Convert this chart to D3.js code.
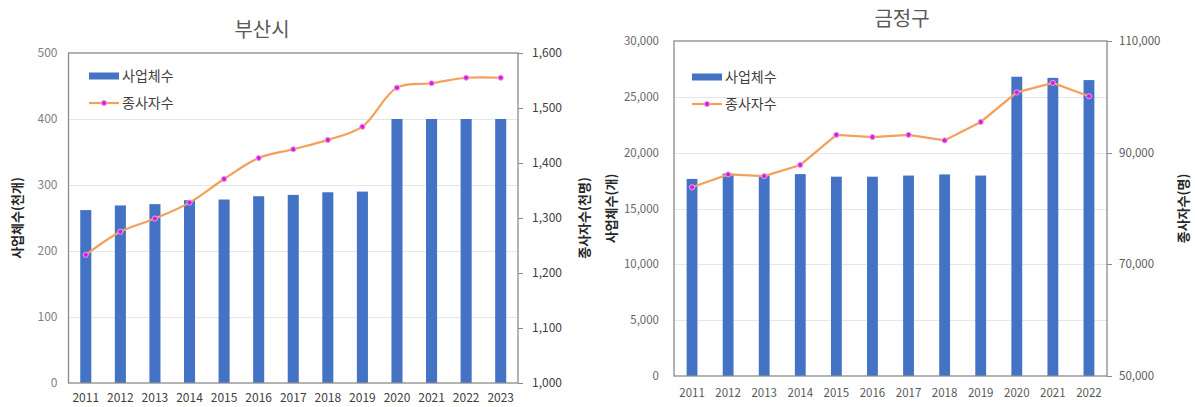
<!DOCTYPE html>
<html><head><meta charset="utf-8">
<script src="https://cdn.jsdelivr.net/npm/d3@7"></script>
<style>
html,body{margin:0;padding:0;background:#fff;}
svg{display:block;font-family:"Noto Sans CJK KR","Noto Sans",sans-serif;}
</style></head>
<body>
<svg id="c" width="1195" height="407"></svg>
<script>
// ---- data: 부산시 ----
const busanYears = ["2011","2012","2013","2014","2015","2016","2017","2018","2019","2020","2021","2022","2023"];
const busanBiz = [262, 269, 271, 277, 278, 283, 285, 289, 290, 400, 400, 400, 400];          // 사업체수(천개)
const busanWorkers = [1233, 1275, 1299, 1328, 1371, 1409, 1425, 1442, 1466, 1537, 1545, 1555, 1555]; // 종사자수(천명)
const busanLeftTicks = [0, 100, 200, 300, 400, 500];
const busanRightTicks = [1000, 1100, 1200, 1300, 1400, 1500, 1600];

// ---- data: 금정구 ----
const gjYears = ["2011","2012","2013","2014","2015","2016","2017","2018","2019","2020","2021","2022"];
const gjBiz = [17650, 18130, 17950, 18080, 17850, 17850, 17950, 18050, 17950, 26800, 26700, 26500]; // 사업체수(개)
const gjWorkers = [83800, 86100, 85800, 87800, 93200, 92800, 93200, 92200, 95500, 100800, 102500, 100100]; // 종사자수(명)
const gjLeftTicks = [0, 5000, 10000, 15000, 20000, 25000, 30000];
const gjRightTicks = [50000, 70000, 90000, 110000];

const legendLabels = ["사업체수", "종사자수"];

const svg = d3.select("#c");
const fmt = d3.format(",");

function drawChart(o) {
  const g = svg.append("g");
  const x = d3.scaleBand().domain(o.years).range([o.x0, o.x1]).paddingInner(o.pad).paddingOuter(o.pad / 2);
  const yL = d3.scaleLinear().domain(o.leftDomain).range([o.y1, o.y0]);
  const yR = d3.scaleLinear().domain(o.rightDomain).range([o.y1, o.y0]);

  // gridlines
  g.append("g").selectAll("line").data(o.leftTicks.slice(1, -1)).join("line")
    .attr("x1", o.x0).attr("x2", o.x1)
    .attr("y1", d => Math.round(yL(d)) + 0.5).attr("y2", d => Math.round(yL(d)) + 0.5)
    .attr("stroke", "#e6e6e6").attr("stroke-width", 1);

  // bars
  g.append("g").selectAll("rect").data(o.biz).join("rect")
    .attr("x", (d, i) => x(o.years[i]))
    .attr("width", x.bandwidth())
    .attr("y", d => yL(d))
    .attr("height", d => yL(o.leftDomain[0]) - yL(d))
    .attr("fill", "#4472c4");

  // plot border
  g.append("rect").attr("x", o.x0).attr("y", o.y0).attr("width", o.x1 - o.x0).attr("height", o.y1 - o.y0)
    .attr("fill", "none").attr("stroke", "#8a8a8a").attr("stroke-width", 1.3);

  // line
  const line = d3.line()
    .x((d, i) => x(o.years[i]) + x.bandwidth() / 2)
    .y(d => yR(d))
    .curve(o.smooth ? d3.curveCatmullRom.alpha(0.5) : d3.curveLinear);
  g.append("path").datum(o.workers).attr("d", line)
    .attr("fill", "none").attr("stroke", "#f2a05a").attr("stroke-width", 2.2);
  g.append("g").selectAll("circle").data(o.workers).join("circle")
    .attr("cx", (d, i) => x(o.years[i]) + x.bandwidth() / 2)
    .attr("cy", d => yR(d))
    .attr("r", 2.6).attr("fill", "#d61fd6").attr("stroke", "#f59cf0").attr("stroke-width", 1);

  // left axis labels
  g.append("g").selectAll("text").data(o.leftTicks).join("text")
    .attr("x", o.x0 - o.leftGap).attr("y", d => yL(d)).attr("dy", "0.35em")
    .attr("text-anchor", "end").attr("font-size", o.tickSize).attr("fill", o.leftColor)
    .text(d => fmt(d));

  // right axis ticks + labels
  const ra = g.append("g");
  ra.selectAll("line").data(o.rightTicks).join("line")
    .attr("x1", o.x1).attr("x2", o.x1 + 5)
    .attr("y1", d => Math.round(yR(d)) + 0.5).attr("y2", d => Math.round(yR(d)) + 0.5)
    .attr("stroke", "#8a8a8a").attr("stroke-width", 1);
  ra.selectAll("text").data(o.rightTicks).join("text")
    .attr("x", o.x1 + o.rightGap).attr("y", d => yR(d)).attr("dy", "0.35em")
    .attr("text-anchor", "start").attr("font-size", o.tickSize).attr("fill", o.rightColor)
    .text(d => fmt(d));

  // x labels
  g.append("g").selectAll("text").data(o.years).join("text")
    .attr("x", d => x(d) + x.bandwidth() / 2).attr("y", o.xLabelY).attr("dy", "0.35em")
    .attr("text-anchor", "middle").attr("font-size", o.tickSize).attr("fill", o.xColor)
    .text(d => d);

  // title
  g.append("text").attr("x", o.titleX).attr("y", o.titleY)
    .attr("text-anchor", "middle").attr("font-size", 20).attr("fill", "#595959").text(o.title);

  // axis titles
  const ym = (o.y0 + o.y1) / 2;
  g.append("text").attr("transform", `translate(${o.leftTitleX},${ym}) rotate(-90)`)
    .attr("text-anchor", "middle").attr("dy", "0.35em").attr("font-size", 13).attr("font-weight", "bold")
    .attr("fill", "#262626").text(o.leftTitle);
  g.append("text").attr("transform", `translate(${o.rightTitleX},${ym}) rotate(-90)`)
    .attr("text-anchor", "middle").attr("dy", "0.35em").attr("font-size", 13).attr("font-weight", "bold")
    .attr("fill", "#262626").text(o.rightTitle);

  // legend
  const lg = g.append("g").attr("transform", `translate(${o.legX},${o.legY})`);
  lg.append("rect").attr("x", 0).attr("y", -3.5).attr("width", 30).attr("height", 7).attr("fill", "#4472c4");
  lg.append("text").attr("x", 33).attr("y", 0).attr("dy", "0.35em").attr("font-size", 14).attr("fill", "#404040").text(legendLabels[0]);
  lg.append("line").attr("x1", 0).attr("x2", 30).attr("y1", 27).attr("y2", 27).attr("stroke", "#f2a05a").attr("stroke-width", 2.2);
  lg.append("circle").attr("cx", 15).attr("cy", 27).attr("r", 2.6).attr("fill", "#d61fd6").attr("stroke", "#f59cf0").attr("stroke-width", 1);
  lg.append("text").attr("x", 33).attr("y", 27).attr("dy", "0.35em").attr("font-size", 14).attr("fill", "#404040").text(legendLabels[1]);
}

drawChart({
  years: busanYears, biz: busanBiz, workers: busanWorkers,
  leftTicks: busanLeftTicks, rightTicks: busanRightTicks,
  leftDomain: [0, 500], rightDomain: [1000, 1600],
  x0: 68.5, x1: 518, y0: 53, y1: 383, pad: 0.68, smooth: true,
  leftGap: 11, rightGap: 14, tickSize: 12, xLabelY: 398,
  leftColor: "#7f7f7f", rightColor: "#404040", xColor: "#404040",
  title: "부산시", titleX: 262, titleY: 37,
  leftTitle: "사업체수(천개)", leftTitleX: 17, rightTitle: "종사자수(천명)", rightTitleX: 584,
  legX: 89, legY: 76
});

drawChart({
  years: gjYears, biz: gjBiz, workers: gjWorkers,
  leftTicks: gjLeftTicks, rightTicks: gjRightTicks,
  leftDomain: [0, 30000], rightDomain: [50000, 110000],
  x0: 674, x1: 1107, y0: 41, y1: 376, pad: 0.7, smooth: false,
  leftGap: 15, rightGap: 12, tickSize: 11.5, xLabelY: 393,
  leftColor: "#666666", rightColor: "#595959", xColor: "#595959",
  title: "금정구", titleX: 902, titleY: 26,
  leftTitle: "사업체수(개)", leftTitleX: 611, rightTitle: "종사자수(명)", rightTitleX: 1183,
  legX: 692, legY: 77
});
</script>
</body></html>
